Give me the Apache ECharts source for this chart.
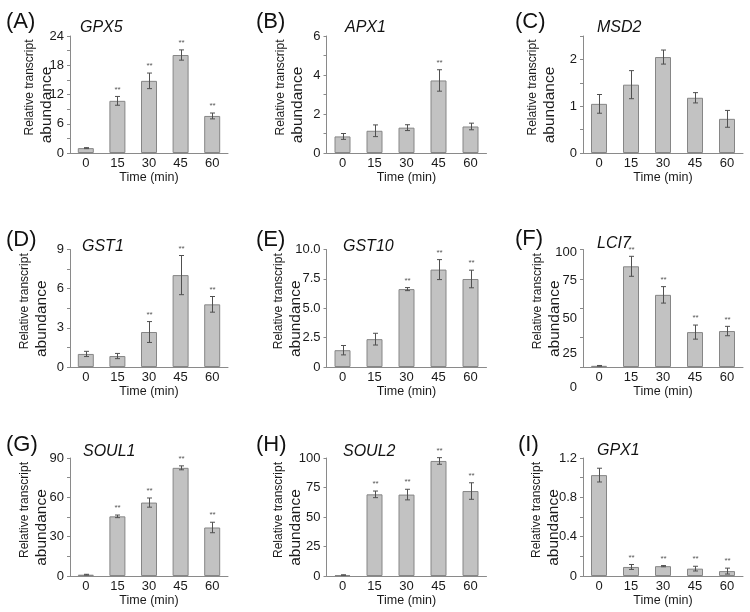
<!DOCTYPE html>
<html><head><meta charset="utf-8">
<script src="https://cdn.jsdelivr.net/npm/echarts@6/dist/echarts.min.js"></script>
<style>html,body{margin:0;padding:0;background:#fff}#c{width:750px;height:612px}</style>
</head><body><div id="c"></div>
<script>
// ---- data ----
const categories = ['0', '15', '30', '45', '60'];
const panelLetters = ['(A)', '(B)', '(C)', '(D)', '(E)', '(F)', '(G)', '(H)', '(I)'];
const genes = ['GPX5', 'APX1', 'MSD2', 'GST1', 'GST10', 'LCI7', 'SOUL1', 'SOUL2', 'GPX1'];

const gpx5 = [1.0, 10.7, 14.8, 20.1, 7.6];
const gpx5Err = [0.1, 0.9, 1.6, 1.05, 0.6];
const gpx5Sig = [0, 1, 1, 1, 1];
const gpx5Ticks = ['0', '6', '12', '18', '24'];

const apx1 = [0.85, 1.14, 1.3, 3.72, 1.36];
const apx1Err = [0.15, 0.3, 0.15, 0.55, 0.17];
const apx1Sig = [0, 0, 0, 1, 0];
const apx1Ticks = ['0', '2', '4', '6'];

const msd2 = [1.05, 1.46, 2.05, 1.18, 0.73];
const msd2Err = [0.2, 0.3, 0.15, 0.11, 0.18];
const msd2Sig = [0, 0, 0, 0, 0];
const msd2Ticks = ['0', '1', '2'];

const gst1 = [1.0, 0.84, 2.68, 7.04, 4.8];
const gst1Err = [0.2, 0.2, 0.8, 1.5, 0.6];
const gst1Sig = [0, 0, 1, 1, 1];
const gst1Ticks = ['0', '3', '6', '9'];

const gst10 = [1.43, 2.37, 6.63, 8.29, 7.49];
const gst10Err = [0.4, 0.5, 0.13, 0.85, 0.75];
const gst10Sig = [0, 0, 1, 1, 1];
const gst10Ticks = ['0', '2.5', '5.0', '7.5', '10.0'];

const lci7 = [1.0, 85.7, 61.4, 29.7, 30.6];
const lci7Err = [0.3, 8.5, 7, 6, 4];
const lci7Sig = [0, 1, 1, 1, 1];
const lci7Ticks = ['0', '25', '50', '75', '100'];

const soul1 = [1.0, 45.5, 56, 82.5, 37];
const soul1Err = [0.3, 1, 3.5, 1.5, 4];
const soul1Sig = [0, 1, 1, 1, 1];
const soul1Ticks = ['0', '30', '60', '90'];

const soul2 = [0.8, 69.2, 69, 97.5, 72];
const soul2Err = [0.2, 2.8, 4.5, 2.8, 7];
const soul2Sig = [0, 1, 1, 1, 1];
const soul2Ticks = ['0', '25', '50', '75', '100'];

const gpx1 = [1.026, 0.092, 0.1, 0.075, 0.05];
const gpx1Err = [0.07, 0.025, 0.006, 0.024, 0.03];
const gpx1Sig = [0, 1, 1, 1, 1];
const gpx1Ticks = ['0', '0.4', '0.8', '1.2'];

const xName = 'Time (min)';
const yNameLine1 = 'Relative transcript';
const yNameLine2 = 'abundance';

// ---- layout / styling ----
const FONT = 'Liberation Sans, Arial, sans-serif';
const values = [gpx5, apx1, msd2, gst1, gst10, lci7, soul1, soul2, gpx1];
const errs = [gpx5Err, apx1Err, msd2Err, gst1Err, gst10Err, lci7Err, soul1Err, soul2Err, gpx1Err];
const sigs = [gpx5Sig, apx1Sig, msd2Sig, gst1Sig, gst10Sig, lci7Sig, soul1Sig, soul2Sig, gpx1Sig];
const tickLabels = [gpx5Ticks, apx1Ticks, msd2Ticks, gst1Ticks, gst10Ticks, lci7Ticks, soul1Ticks, soul2Ticks, gpx1Ticks];
// axis scale: [max, tick interval, label step]
const scales = [[24, 3, 6], [6, 1, 2], [2.5, 0.5, 1], [9, 1.5, 3], [10, 2.5, 2.5], [100, 25, 25], [90, 15, 30], [100, 25, 25], [1.2, 0.2, 0.4]];

const colLeft = [70, 326.5, 583];
const colWidth = [158, 160, 160];
const rowTop = [36, 249.5, 458];
const rowHeight = [117, 117.5, 118];
const nameGaps = [15, 20.5, 24.5, 19.5, 22, 19.5, 19.5, 22, 20.5];
const letterPos = [[6, 11], [256, 11], [515, 11], [6, 229], [256, 229], [515, 228], [6, 434], [256, 434], [518, 434]];
const genePos = [[80, 20], [345, 20], [597, 20], [82, 239], [343, 239], [597, 236], [83, 444], [343, 444], [597, 443]];
// panel F's tick labels are visually displaced in the original
const fOffsets = {0: 40, 25: 32, 50: 20, 75: 4, 100: 6};

const grids = [], xAxes = [], yAxes = [], series = [], titles = [];
for (let i = 0; i < 9; i++) {
  const r = Math.floor(i / 3), c = i % 3;
  grids.push({left: colLeft[c], top: rowTop[r], width: colWidth[c], height: rowHeight[r], containLabel: false});
  xAxes.push({
    type: 'category', gridIndex: i, data: categories,
    axisLine: {lineStyle: {color: '#8a8a8a', width: 1}},
    axisTick: {show: false},
    axisLabel: {color: '#1a1a1a', fontSize: 13, fontFamily: FONT, margin: 4},
    name: xName, nameLocation: 'middle', nameGap: 14,
    nameTextStyle: {color: '#1a1a1a', fontSize: 12.5, fontFamily: FONT}
  });
  const [mx, iv, step] = scales[i];
  const tl = tickLabels[i];
  const isF = i === 5;
  const richF = {};
  if (isF) {
    Object.keys(fOffsets).forEach(k => {
      richF['o' + k] = {fontSize: 13, fontFamily: FONT, color: '#1a1a1a', padding: [fOffsets[k], 0, 0, 0]};
    });
  }
  yAxes.push({
    type: 'value', gridIndex: i, min: 0, max: mx, interval: iv,
    axisLine: {show: true, lineStyle: {color: '#8a8a8a', width: 1}},
    axisTick: {show: true, length: 3, lineStyle: {color: '#8a8a8a'}},
    splitLine: {show: false},
    axisLabel: {
      color: '#1a1a1a', fontSize: 13, fontFamily: FONT, margin: 6,
      rich: isF ? richF : undefined,
      formatter: (v) => {
        const q = v / step;
        if (Math.abs(q - Math.round(q)) > 1e-6) return '';
        const t = tl[Math.round(q)];
        if (t === undefined) return '';
        return isF ? '{o' + t + '|' + t + '}' : t;
      }
    },
    name: '{a|' + yNameLine1 + '}\n{b|' + yNameLine2 + '}',
    nameLocation: 'middle', nameRotate: 90, nameGap: nameGaps[i], nameMoveOverlap: false,
    nameTextStyle: {
      color: '#1a1a1a', fontFamily: FONT,
      rich: {
        a: {fontSize: 12, lineHeight: 17, fontFamily: FONT, color: '#1a1a1a', padding: [0, 0, 0, 14]},
        b: {fontSize: 15.5, lineHeight: 17, fontFamily: FONT, color: '#1a1a1a', padding: [0, 21, 0, 0]}
      }
    }
  });
  series.push({
    type: 'bar', xAxisIndex: i, yAxisIndex: i, data: values[i], barWidth: 16, z: 2,
    itemStyle: {color: '#c2c2c2', borderColor: '#868686', borderWidth: 1},
    silent: true, animation: false
  });
  series.push({
    type: 'custom', xAxisIndex: i, yAxisIndex: i, animation: false, silent: true, z: 5,
    data: values[i].map((v, k) => [k, v, errs[i][k], sigs[i][k]]),
    renderItem: (params, api) => {
      const x = api.value(0), y = api.value(1), e = api.value(2), s = api.value(3);
      const top = api.coord([x, y + e]);
      const bot = api.coord([x, Math.max(0, y - e)]);
      const px = Math.round(top[0]) + 0.5;
      const cap = 2.5;
      const st = {stroke: '#505050', lineWidth: 1};
      const ch = [
        {type: 'line', shape: {x1: px, y1: top[1], x2: px, y2: bot[1]}, style: st, z2: 10},
        {type: 'line', shape: {x1: px - cap, y1: top[1], x2: px + cap, y2: top[1]}, style: st, z2: 10},
        {type: 'line', shape: {x1: px - cap, y1: bot[1], x2: px + cap, y2: bot[1]}, style: st, z2: 10}
      ];
      if (s) ch.push({type: 'text', style: {text: '**', x: px, y: top[1] - 3, align: 'center', verticalAlign: 'bottom', fontSize: 8, fontFamily: FONT, fill: '#555'}});
      return {type: 'group', children: ch};
    }
  });
  titles.push({text: panelLetters[i], left: letterPos[i][0], top: letterPos[i][1], padding: 0,
    textStyle: {fontSize: 22, fontWeight: 'normal', color: '#111', fontFamily: FONT}});
  titles.push({text: genes[i], left: genePos[i][0], top: genePos[i][1], padding: 0,
    textStyle: {fontSize: 16, fontWeight: 'normal', fontStyle: 'italic', color: '#111', fontFamily: FONT}});
}

const chart = echarts.init(document.getElementById('c'), null, {renderer: 'canvas'});
chart.setOption({
  backgroundColor: '#fff', animation: false,
  title: titles, grid: grids, xAxis: xAxes, yAxis: yAxes, series: series
});
</script></body></html>
